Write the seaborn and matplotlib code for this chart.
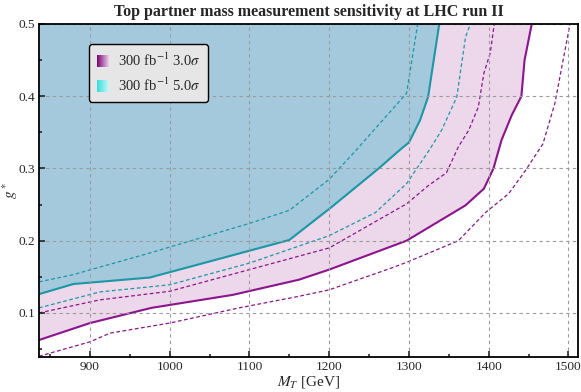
import numpy as np
import matplotlib
matplotlib.use("Agg")
import matplotlib.pyplot as plt
import seaborn as sns
from matplotlib.legend_handler import HandlerBase
from matplotlib.patches import Rectangle
from matplotlib.colors import to_rgb

# curves (M_T in GeV, g*)
purple_solid_x = [836, 900, 977, 1079, 1162, 1200, 1297, 1371, 1394, 1406, 1416, 1429, 1441, 1445, 1454]
purple_solid_y = [0.0625, 0.086, 0.107, 0.125, 0.146, 0.160, 0.200, 0.249, 0.272, 0.300, 0.339, 0.374, 0.400, 0.450, 0.500]

purple_dash_hi_x = [836, 912, 1000, 1100, 1200, 1297, 1324, 1347, 1362, 1375, 1387, 1394, 1402, 1407]
purple_dash_hi_y = [0.100, 0.118, 0.130, 0.160, 0.190, 0.251, 0.276, 0.294, 0.330, 0.353, 0.385, 0.432, 0.460, 0.500]

purple_dash_lo_x = [836, 900, 925, 1000, 1087, 1162, 1200, 1275, 1297, 1362, 1396, 1425, 1446, 1468, 1483, 1502]
purple_dash_lo_y = [0.040, 0.060, 0.072, 0.086, 0.107, 0.123, 0.132, 0.161, 0.170, 0.200, 0.239, 0.265, 0.297, 0.334, 0.390, 0.500]

teal_solid_x = [836, 879, 975, 1150, 1200, 1241, 1262, 1291, 1300, 1314, 1324, 1333, 1338]
teal_solid_y = [0.126, 0.140, 0.149, 0.201, 0.244, 0.281, 0.300, 0.328, 0.336, 0.367, 0.399, 0.464, 0.500]

teal_dash_hi_x = [836, 879, 975, 1100, 1150, 1200, 1231, 1297, 1311]
teal_dash_hi_y = [0.143, 0.153, 0.183, 0.224, 0.242, 0.285, 0.322, 0.404, 0.500]

teal_dash_lo_x = [836, 912, 1000, 1100, 1200, 1258, 1297, 1327, 1341, 1360, 1371, 1377]
teal_dash_lo_y = [0.107, 0.129, 0.139, 0.169, 0.207, 0.239, 0.279, 0.328, 0.353, 0.399, 0.482, 0.500]

legend_labels = [r"300 fb$^{-1}$ 3.0$\sigma$", r"300 fb$^{-1}$ 5.0$\sigma$"]

purple = "#8c148c"
teal = "#1b97a6"
pink_fill = "#ecd8ea"
blue_fill = "#a4c9dc"

sns.set_style("ticks")
plt.rcParams["font.family"] = ["Liberation Serif", "DejaVu Serif"]
plt.rcParams["mathtext.fontset"] = "stix"


class GradSwatch:
    def __init__(self, c0, c1):
        self.c0 = c0
        self.c1 = c1


class GradientHandler(HandlerBase):
    def create_artists(self, legend, orig_handle, xdescent, ydescent,
                       width, height, fontsize, trans):
        n = 12
        a = np.array(to_rgb(orig_handle.c0))
        b = np.array(to_rgb(orig_handle.c1))
        arts = []
        for i in range(n):
            c = a + (b - a) * i / (n - 1)
            r = Rectangle((-xdescent + width * i / n, -ydescent), width / n + 0.2, height,
                          facecolor=c, edgecolor="none", transform=trans)
            arts.append(r)
        return arts


fig = plt.figure(figsize=(5.81, 3.92), dpi=100)
ax = fig.add_axes([0.0671, 0.0893, 0.9277, 0.8495])

# filled regions: pink above the 3 sigma line, blue above the 5 sigma line
ax.fill_between(purple_solid_x, purple_solid_y, 0.5, color=pink_fill, lw=0)
ax.fill_between(teal_solid_x, teal_solid_y, 0.5, color=blue_fill, lw=0)

sns.lineplot(x=purple_solid_x, y=purple_solid_y, sort=False, color=purple, lw=1.5, ax=ax)
sns.lineplot(x=teal_solid_x, y=teal_solid_y, sort=False, color=teal, lw=1.5, ax=ax)
for xs, ys, c in [(purple_dash_hi_x, purple_dash_hi_y, purple),
                  (purple_dash_lo_x, purple_dash_lo_y, purple),
                  (teal_dash_hi_x, teal_dash_hi_y, teal),
                  (teal_dash_lo_x, teal_dash_lo_y, teal)]:
    sns.lineplot(x=xs, y=ys, sort=False, color=c, lw=0.9, ax=ax, dashes=False,
                 linestyle=(0, (3, 2)))

ax.set_xlim(836, 1512)
ax.set_ylim(0.039, 0.5)
ax.set_xticks([900, 1000, 1100, 1200, 1300, 1400, 1500])
ax.set_xticks(np.arange(850, 1512, 50), minor=True)
ax.set_yticks([0.1, 0.2, 0.3, 0.4, 0.5])
ax.set_yticks([0.05, 0.15, 0.25, 0.35, 0.45], minor=True)
ax.set_yticklabels(["0.1", "0.2", "0.3", "0.4", "0.5"])
ax.grid(True, which="major", color="#9a9a9a", ls=(0, (3, 3)), lw=0.8)
ax.set_axisbelow(False)
ax.tick_params(which="both", direction="in", top=False, right=False, labelsize=9.6, width=1.2)
ax.tick_params(which="major", length=4, pad=3)
ax.tick_params(which="minor", length=2.5)
for s in ax.spines.values():
    s.set_linewidth(1.3)
    s.set_color("black")
    s.set_zorder(5)

ax.set_xlabel(r"$M_T$ [GeV]", fontsize=11)
ax.set_ylabel(r"$g^*$", fontsize=11)
ax.xaxis.set_label_coords(0.5, -0.052)
ax.yaxis.set_label_coords(-0.036, 0.5)
ax.set_title("Top partner mass measurement sensitivity at LHC run II",
             fontsize=11.5, fontweight="bold", pad=6)

handles = [GradSwatch("#7a0a7a", "#e8c8e8"), GradSwatch("#38dede", "#c8f4f4")]
leg = ax.legend(handles, legend_labels, handler_map={GradSwatch: GradientHandler()},
                loc="upper left", bbox_to_anchor=(0.08, 0.962), fontsize=10.5,
                frameon=True, fancybox=True, facecolor="#e6e6e6", edgecolor="black",
                framealpha=1, handlelength=0.8, handleheight=0.9, handletextpad=0.6,
                borderpad=0.55, labelspacing=0.5)
leg.get_frame().set_linewidth(1.0)
leg.set_zorder(10)

fig.savefig("out.png", dpi=100)
